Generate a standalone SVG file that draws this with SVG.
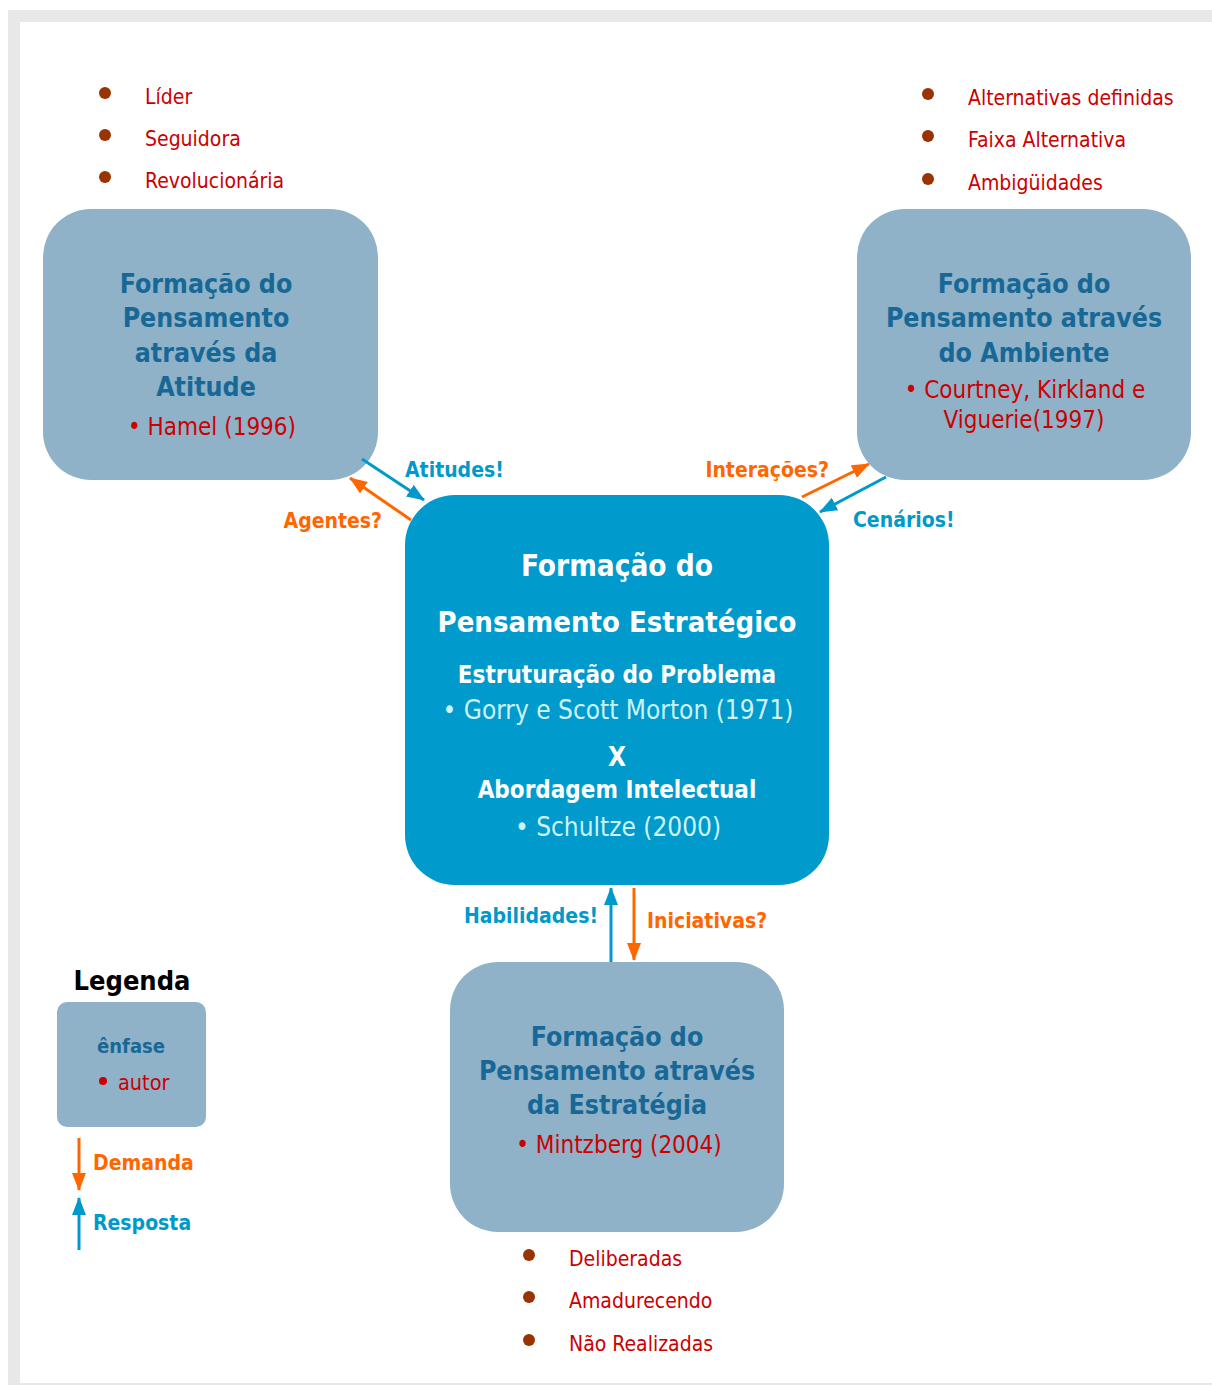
<svg xmlns="http://www.w3.org/2000/svg" width="1212" height="1385" viewBox="0 0 1212 1385">
<defs>
<style>
text{font-family:"DejaVu Sans Condensed","DejaVu Sans",sans-serif;font-stretch:condensed}
.box{fill:#8fb2c8}
.center{fill:#009acd}
.ttl{fill:#176896;font-weight:bold;font-size:26.5px;text-anchor:middle}
.ctl{fill:#ffffff;font-weight:bold;text-anchor:middle}
.aut{fill:#cc0000;font-size:24px;text-anchor:middle}
.lt{fill:#ccf4f7;font-size:26px;text-anchor:middle}
.li{fill:#cc0000;font-size:21px}
.dot{fill:#993300}
.blue{stroke:#0099cc;stroke-width:3;fill:none}
.orange{stroke:#ff6600;stroke-width:3;fill:none}
.bl{fill:#0099cc;font-weight:bold;font-size:21px}
.ol{fill:#ff6600;font-weight:bold;font-size:21px}
</style>
<marker id="ab" viewBox="0 0 18 14" refX="17" refY="7" markerUnits="userSpaceOnUse" markerWidth="18" markerHeight="14" orient="auto"><path d="M0,0L18,7L0,14z" fill="#0099cc"/></marker>
<marker id="ao" viewBox="0 0 18 14" refX="17" refY="7" markerUnits="userSpaceOnUse" markerWidth="18" markerHeight="14" orient="auto"><path d="M0,0L18,7L0,14z" fill="#ff6600"/></marker>
</defs>
<rect x="0" y="0" width="1212" height="1385" fill="#ffffff"/>
<rect x="8" y="10" width="1220" height="1375" fill="#e8e8e8"/>
<rect x="20" y="22" width="1200" height="1361" fill="#ffffff"/>

<g id="list-atitude">
<circle class="dot" cx="105" cy="93" r="6"/><text class="li" x="145" y="104">Líder</text>
<circle class="dot" cx="105" cy="135" r="6"/><text class="li" x="145" y="146">Seguidora</text>
<circle class="dot" cx="105" cy="177" r="6"/><text class="li" x="145" y="188">Revolucionária</text>
</g>
<g id="list-ambiente">
<circle class="dot" cx="928" cy="94" r="6"/><text class="li" x="968" y="105">Alternativas definidas</text>
<circle class="dot" cx="928" cy="136" r="6"/><text class="li" x="968" y="147">Faixa Alternativa</text>
<circle class="dot" cx="928" cy="179" r="6"/><text class="li" x="968" y="190">Ambigüidades</text>
</g>
<g id="list-estrategia">
<circle class="dot" cx="529" cy="1255" r="6"/><text class="li" x="569" y="1266">Deliberadas</text>
<circle class="dot" cx="529" cy="1297" r="6"/><text class="li" x="569" y="1308">Amadurecendo</text>
<circle class="dot" cx="529" cy="1340" r="6"/><text class="li" x="569" y="1351">Não Realizadas</text>
</g>

<g id="node-atitude">
<rect class="box" x="43" y="209" width="335" height="271" rx="48"/>
<text class="ttl" x="206" y="293">Formação do</text>
<text class="ttl" x="206" y="327">Pensamento</text>
<text class="ttl" x="206" y="362">através da</text>
<text class="ttl" x="206" y="396">Atitude</text>
<text class="aut" x="212" y="435">• Hamel (1996)</text>
</g>
<g id="node-ambiente">
<rect class="box" x="857" y="209" width="334" height="271" rx="48"/>
<text class="ttl" x="1024" y="293">Formação do</text>
<text class="ttl" x="1024" y="327">Pensamento através</text>
<text class="ttl" x="1024" y="362">do Ambiente</text>
<text class="aut" x="1025" y="398">• Courtney, Kirkland e</text>
<text class="aut" x="1024" y="428">Viguerie(1997)</text>
</g>
<g id="node-central">
<rect class="center" x="405" y="495" width="424" height="390" rx="50"/>
<text class="ctl" x="617" y="576" font-size="29.5">Formação do</text>
<text class="ctl" x="617" y="632" font-size="29">Pensamento Estratégico</text>
<text class="ctl" x="617" y="683" font-size="24">Estruturação do Problema</text>
<text class="lt" x="618" y="719">• Gorry e Scott Morton (1971)</text>
<text class="ctl" x="617" y="766" font-size="26">X</text>
<text class="ctl" x="617" y="798" font-size="24">Abordagem Intelectual</text>
<text class="lt" x="618" y="836">• Schultze (2000)</text>
</g>
<g id="node-estrategia">
<rect class="box" x="450" y="962" width="334" height="270" rx="48"/>
<text class="ttl" x="617" y="1046">Formação do</text>
<text class="ttl" x="617" y="1080">Pensamento através</text>
<text class="ttl" x="617" y="1114">da Estratégia</text>
<text class="aut" x="619" y="1153">• Mintzberg (2004)</text>
</g>

<g id="connectors">
<line class="blue" x1="362" y1="459" x2="424" y2="500" marker-end="url(#ab)"/>
<text class="bl" x="405" y="477">Atitudes!</text>
<line class="orange" x1="411" y1="520" x2="350" y2="478" marker-end="url(#ao)"/>
<text class="ol" x="382" y="528" text-anchor="end">Agentes?</text>
<line class="orange" x1="802" y1="497" x2="869" y2="464" marker-end="url(#ao)"/>
<text class="ol" x="829" y="477" text-anchor="end">Interações?</text>
<line class="blue" x1="886" y1="477" x2="820" y2="512" marker-end="url(#ab)"/>
<text class="bl" x="853" y="527">Cenários!</text>
<line class="blue" x1="611" y1="962" x2="611" y2="888" marker-end="url(#ab)"/>
<text class="bl" x="598" y="923" text-anchor="end">Habilidades!</text>
<line class="orange" x1="634" y1="888" x2="634" y2="960" marker-end="url(#ao)"/>
<text class="ol" x="647" y="928">Iniciativas?</text>
</g>

<g id="legend">
<text x="132" y="990" font-size="27" font-weight="bold" fill="#000000" text-anchor="middle">Legenda</text>
<rect class="box" x="57" y="1002" width="149" height="125" rx="10"/>
<text x="131" y="1053" font-size="20" font-weight="bold" fill="#176896" text-anchor="middle">ênfase</text>
<circle cx="103" cy="1081" r="4" fill="#cc0000"/>
<text x="118" y="1090" font-size="21.5" fill="#cc0000">autor</text>
<line class="orange" x1="79" y1="1138" x2="79" y2="1190" marker-end="url(#ao)"/>
<text class="ol" x="93" y="1170">Demanda</text>
<line class="blue" x1="79" y1="1250" x2="79" y2="1198" marker-end="url(#ab)"/>
<text class="bl" x="93" y="1230">Resposta</text>
</g>
</svg>
